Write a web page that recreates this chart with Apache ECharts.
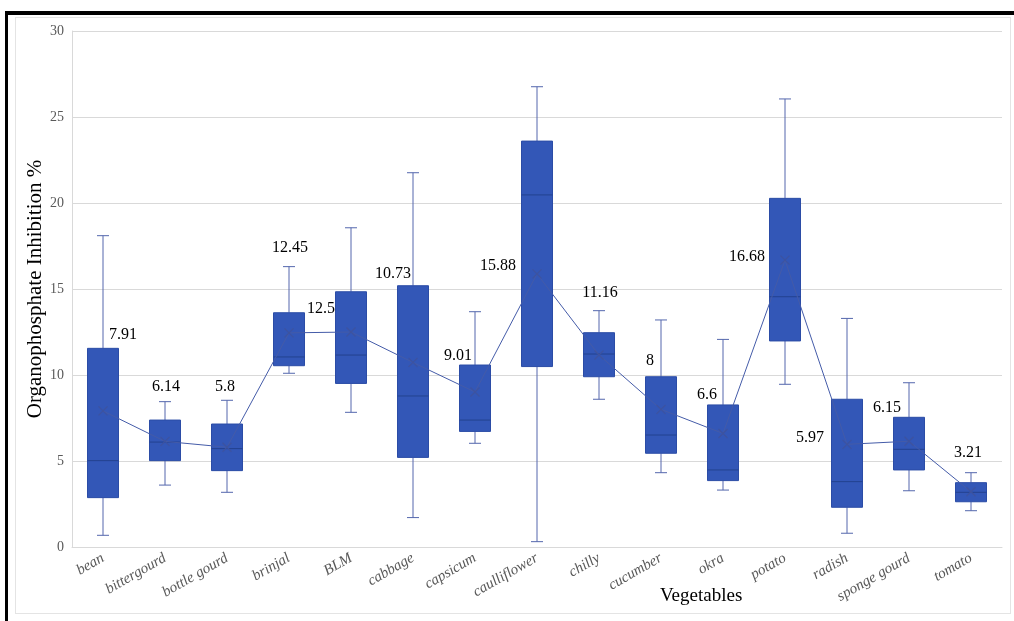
<!DOCTYPE html>
<html>
<head>
<meta charset="utf-8">
<title>Organophosphate Inhibition by Vegetable</title>
<script src="https://cdn.jsdelivr.net/npm/echarts@6/dist/echarts.min.js"></script>
<style>
  html, body { margin: 0; padding: 0; background: #fff; }
  #wrap { position: relative; width: 1014px; height: 621px; overflow: hidden; }
  #main { position: absolute; left: 0; top: 0; width: 1014px; height: 621px; }
  .frame { position: absolute; pointer-events: none; }
</style>
</head>
<body>
<div id="wrap">
  <div id="main"></div>
  <!-- outer black frame (cropped at bottom and right) -->
  <div class="frame" style="left:5px;top:11px;width:1009px;height:4px;background:#000;"></div>
  <div class="frame" style="left:5px;top:11px;width:3px;height:610px;background:#000;"></div>
  <!-- inner light chart-area border -->
  <div class="frame" style="left:15px;top:17px;width:994px;height:595px;border:1px solid #e4e4e4;"></div>
</div>
<script>
const categories = ['bean', 'bittergourd', 'bottle gourd', 'brinjal', 'BLM', 'cabbage', 'capsicum',
  'caulliflower', 'chilly', 'cucumber', 'okra', 'potato', 'radish', 'sponge gourd', 'tomato'];

const whiskerLow  = [0.68, 3.60, 3.18, 10.10, 7.83, 1.71, 6.03, 0.31, 8.59, 4.32, 3.31, 9.46, 0.80, 3.27, 2.11];
const q1          = [2.87, 5.02, 4.44, 10.54, 9.51, 5.21, 6.72, 10.49, 9.90, 5.45, 3.86, 11.98, 2.31, 4.48, 2.63];
const median      = [5.02, 6.10, 5.72, 11.05, 11.16, 8.78, 7.38, 20.47, 11.22, 6.51, 4.48, 14.55, 3.80, 5.68, 3.18];
const q3          = [11.55, 7.38, 7.15, 13.62, 14.84, 15.19, 10.58, 23.60, 12.46, 9.90, 8.26, 20.27, 8.59, 7.54, 3.74];
const whiskerHigh = [18.10, 8.45, 8.53, 16.30, 18.56, 21.76, 13.68, 26.76, 13.74, 13.20, 12.07, 26.05, 13.29, 9.55, 4.32];
const means       = [7.91, 6.14, 5.8, 12.45, 12.5, 10.73, 9.01, 15.88, 11.16, 8, 6.6, 16.68, 5.97, 6.15, 3.21];

// where each mean label sits relative to its marker (px)
const meanLabelOffsets = [[20, -76], [1, -55], [-2, -60], [1, -85], [-30, -23], [-20, -89], [-17, -36],
  [-39, -8], [1, -62], [-11, -49], [-16, -39], [-38, -3], [-37, -7], [-22, -33], [-3, -39]];

const boxFill = '#3357b7';
const boxEdge = '#2b4ca6';
const whiskerColor = '#5467ad';
const serif = '"Liberation Serif", "Times New Roman", serif';

const boxData = categories.map(function (c, i) {
  return [i, whiskerLow[i], q1[i], median[i], q3[i], whiskerHigh[i]];
});

function renderBox(params, api) {
  const i = api.value(0);
  const low = api.coord([i, api.value(1)]);
  const p1 = api.coord([i, api.value(2)]);
  const med = api.coord([i, api.value(3)]);
  const p3 = api.coord([i, api.value(4)]);
  const high = api.coord([i, api.value(5)]);
  const x = low[0];
  const half = 15.5;
  const cap = 6;
  const lineStyle = { stroke: whiskerColor, lineWidth: 1 };
  return {
    type: 'group',
    children: [
      { type: 'line', shape: { x1: x, y1: high[1], x2: x, y2: p3[1] }, style: lineStyle },
      { type: 'line', shape: { x1: x, y1: p1[1], x2: x, y2: low[1] }, style: lineStyle },
      { type: 'line', shape: { x1: x - cap, y1: high[1], x2: x + cap, y2: high[1] }, style: lineStyle },
      { type: 'line', shape: { x1: x - cap, y1: low[1], x2: x + cap, y2: low[1] }, style: lineStyle },
      {
        type: 'rect',
        shape: { x: x - half, y: p3[1], width: half * 2, height: p1[1] - p3[1] },
        style: { fill: boxFill, stroke: boxEdge, lineWidth: 1 }
      },
      { type: 'line', shape: { x1: x - half, y1: med[1], x2: x + half, y2: med[1] },
        style: { stroke: '#23428f', lineWidth: 1 } }
    ]
  };
}

const chart = echarts.init(document.getElementById('main'), null, { renderer: 'canvas' });

const option = {
  backgroundColor: 'transparent',
  animation: false,
  grid: { left: 72, right: 12, top: 31, bottom: 74 },
  xAxis: {
    type: 'category',
    data: categories,
    boundaryGap: true,
    axisTick: { show: false },
    axisLine: { lineStyle: { color: '#d9d9d9' } },
    axisLabel: {
      rotate: 30,
      interval: 0,
      margin: 10,
      color: '#595959',
      fontFamily: serif,
      fontStyle: 'italic',
      fontSize: 15
    }
  },
  yAxis: {
    type: 'value',
    min: 0,
    max: 30,
    interval: 5,
    name: 'Organophosphate Inhibition %',
    nameLocation: 'middle',
    nameGap: 26,
    nameMoveOverlap: false,
    nameTextStyle: { color: '#000', fontFamily: serif, fontSize: 21 },
    axisLine: { show: true, lineStyle: { color: '#d9d9d9' } },
    axisTick: { show: false },
    axisLabel: { color: '#595959', fontFamily: serif, fontSize: 14, margin: 8 },
    splitLine: { lineStyle: { color: '#d9d9d9' } }
  },
  graphic: [{
    type: 'text',
    left: 660,
    top: 587,
    style: { text: 'Vegetables', fill: '#000', font: '19px ' + serif }
  }],
  series: [
    {
      type: 'custom',
      name: 'box',
      data: boxData,
      encode: { x: 0, y: [1, 2, 3, 4, 5] },
      renderItem: renderBox,
      z: 2
    },
    {
      type: 'line',
      name: 'mean',
      data: means.map(function (v, i) {
        return { value: v, label: { offset: meanLabelOffsets[i] } };
      }),
      symbol: 'path://M0,0L10,10M10,0L0,10',
      symbolSize: 9,
      itemStyle: { color: 'transparent', borderColor: '#3d53a0', borderWidth: 1.2 },
      lineStyle: { color: '#445ba8', width: 1 },
      label: {
        show: true,
        position: 'inside',
        color: '#000',
        fontFamily: serif,
        fontSize: 16
      },
      z: 3
    }
  ]
};

chart.setOption(option);
</script>
</body>
</html>
